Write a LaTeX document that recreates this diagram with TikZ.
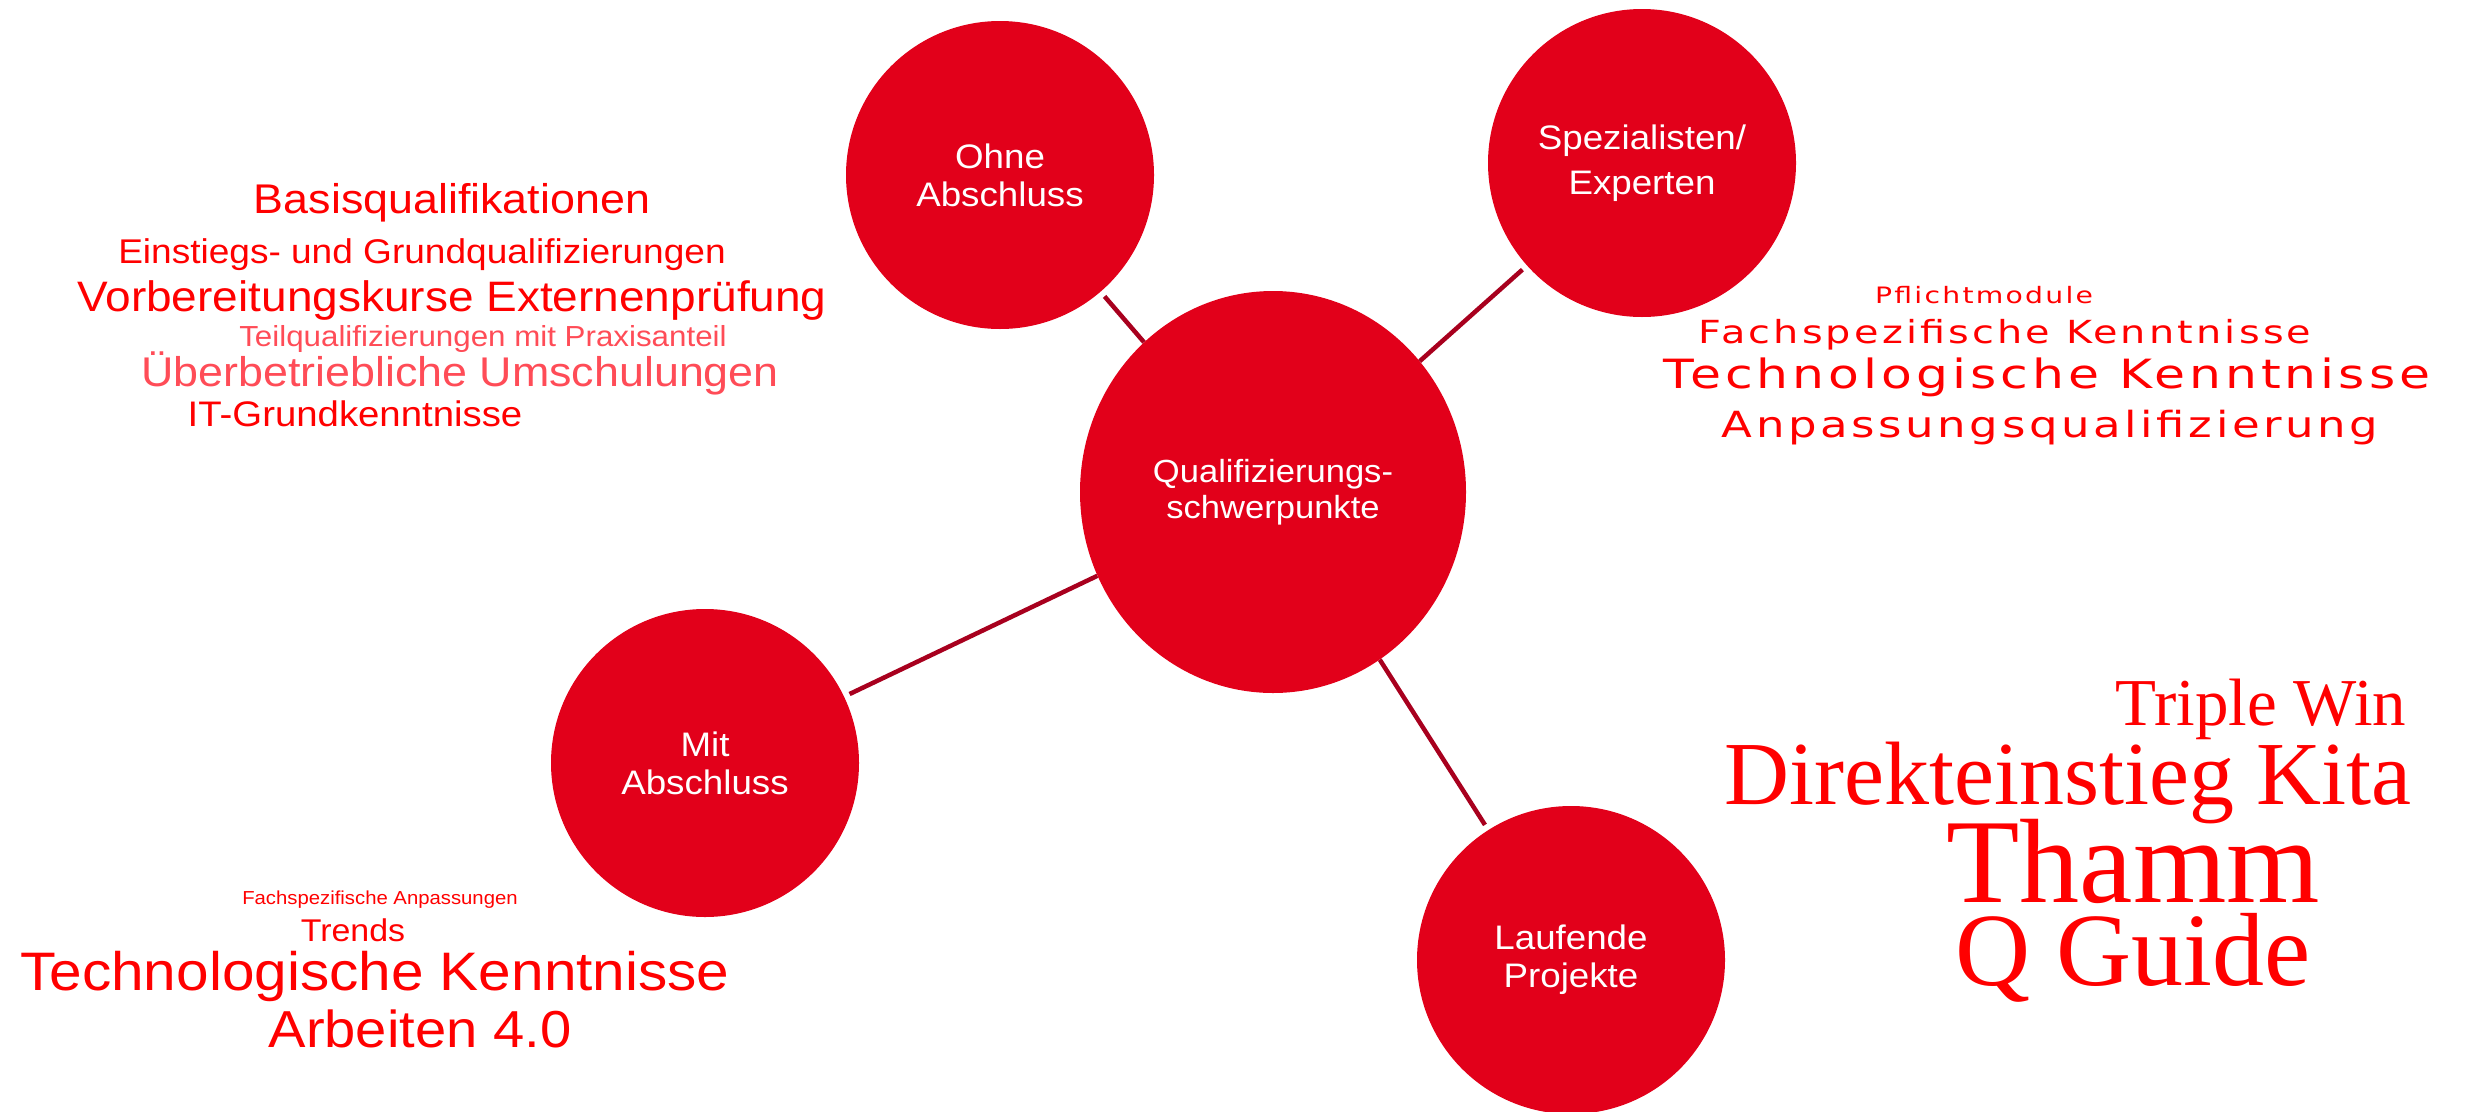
\documentclass[tikz,border=0pt]{standalone}
\usepackage{fontspec}
\setmainfont[FakeStretch=1.08]{Liberation Sans}
\newfontfamily\serifword{Liberation Serif}
\newfontfamily\wideword[FakeStretch=1.25,LetterSpace=10]{DejaVu Sans}
\usetikzlibrary{shapes.geometric}
\definecolor{bubblered}{HTML}{E2001A}
\definecolor{linkred}{HTML}{A8001E}
\definecolor{wordred}{HTML}{FF0000}
\definecolor{softred}{HTML}{FF4C57}
\newcommand\wsize[1]{\fontsize{#1}{#1}\selectfont}

\begin{document}
\begin{tikzpicture}[x=1pt,y=-1pt,
  bubble/.style={circle, fill=bubblered, text=white, minimum size=308pt, inner sep=0pt, align=center, font=\fontsize{34}{38}\selectfont},
  link/.style={draw=linkred, line width=4.5pt},
  word/.style={anchor=base, text=wordred, inner sep=0pt}]
  \useasboundingbox (0,0) rectangle (2467,1111);

  \node[bubble, ellipse, minimum width=386pt, minimum height=402pt, font=\fontsize{32}{36}\selectfont] (main) at (1273,492) {Qualifizierungs-\\schwerpunkte};
  \node[bubble] (ohne) at (1000,175) {Ohne\\Abschluss};
  \node[bubble, font=\fontsize{34}{45}\selectfont] (spez) at (1642,163) {Spezialisten/\\Experten};
  \node[bubble] (mit) at (705,763) {Mit\\Abschluss};
  \node[bubble] (lauf) at (1571,960) {Laufende\\Projekte};

  \draw[link, shorten >=6pt] (main) -- (ohne);
  \draw[link, shorten >=6pt] (main) -- (spez);
  \draw[link, shorten >=6pt] (main) -- (mit);
  \draw[link, shorten >=6pt] (main) -- (lauf);

  % ohne abschluss
  \node[word, font=\wsize{41.5}] (basis) at (452,213) {Basisqualifikationen};
  \node[word, font=\wsize{34.3}] (einstieg) at (422,263) {Einstiegs- und Grundqualifizierungen};
  \node[word, font=\wsize{42.6}] (vorber) at (452,311) {Vorbereitungskurse Externenprüfung};
  \node[word, text=softred, font=\wsize{29}] (teilq) at (483,346) {Teilqualifizierungen mit Praxisanteil};
  \node[word, text=softred, font=\wsize{41.5}] (ueber) at (460,386) {Überbetriebliche Umschulungen};
  \node[word, font=\wsize{35.5}] (itgrund) at (355,426) {IT-Grundkenntnisse};

  % spezialisten
  \node[word, font=\wideword\wsize{22.6}] (pflicht) at (1984,303) {Pflichtmodule};
  \node[word, font=\wideword\wsize{31.8}] (fachspez) at (2005,343) {Fachspezifische Kenntnisse};
  \node[word, font=\wideword\wsize{40.3}] (techspez) at (2047,388) {Technologische Kenntnisse};
  \node[word, font=\wideword\wsize{36}] (anpass) at (2050,437) {Anpassungsqualifizierung};

  % mit abschluss
  \node[word, font=\wsize{18.8}] (fachanp) at (380,904) {Fachspezifische Anpassungen};
  \node[word, font=\wsize{31.4}] (trends) at (353,941) {Trends};
  \node[word, font=\wsize{54.2}] (techmit) at (375,990) {Technologische Kenntnisse};
  \node[word, font=\wsize{52}] (arbeiten) at (420,1047) {Arbeiten 4.0};

  % laufende projekte
  \node[word, font=\serifword\wsize{67}] (triple) at (2261,725) {Triple Win};
  \node[word, font=\serifword\wsize{90}] (kita) at (2068,804) {Direkteinstieg Kita};
  \node[word, font=\serifword\wsize{120}] (thamm) at (2133,902) {Thamm};
  \node[word, font=\serifword\wsize{104}] (qguide) at (2133,985) {Q Guide};
\end{tikzpicture}
\end{document}
